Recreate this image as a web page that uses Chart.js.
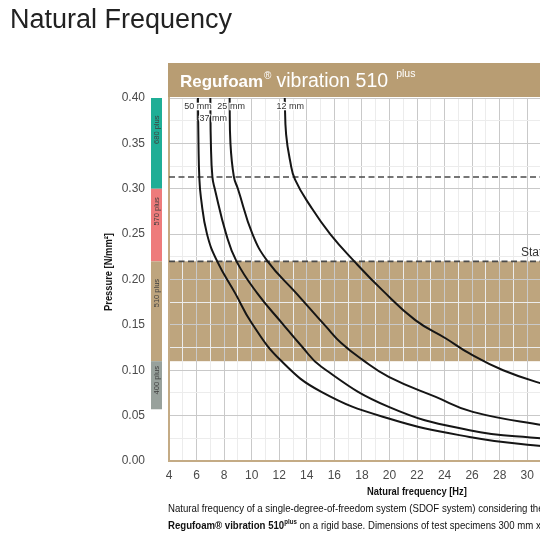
<!DOCTYPE html>
<html><head><meta charset="utf-8">
<script src="https://cdn.jsdelivr.net/npm/chart.js@4.4.1/dist/chart.umd.min.js"></script>
<style>
html,body{margin:0;padding:0;width:540px;height:540px;overflow:hidden;background:#fff;}
#wrap{position:relative;width:540px;height:540px;overflow:hidden;}
canvas{position:absolute;left:0;top:0;}
.t{position:absolute;white-space:nowrap;font-family:'Liberation Sans',Arial,sans-serif;color:#111;}
.n{transform-origin:left top;transform:scaleX(0.875);}
</style></head><body>
<div id="wrap">
<canvas id="c" width="700" height="540" style="width:700px;height:540px"></canvas>
<div class="t" style="left:10px;top:4px;font-size:27px;color:#222;">Natural Frequency</div>
<div class="t" style="left:108px;top:272px;font-size:11px;font-weight:bold;transform:translate(-50%,-50%) rotate(-90deg) scaleX(0.85);">Pressure [N/mm²]</div>
<div class="t" style="left:417px;top:491px;font-size:11px;font-weight:bold;transform:translate(-50%,-50%) scaleX(0.85);">Natural frequency [Hz]</div>
<div class="t n" style="left:168px;top:502px;font-size:11px;line-height:13px;">Natural frequency of a single-degree-of-freedom system (SDOF system) considering the stiffness of<br><b>Regufoam® vibration 510</b><sup style="font-size:7px;font-weight:bold;">plus</sup> on a rigid base. Dimensions of test specimens 300 mm x 300 mm.</div>
</div>
<script>
// ---- data ----
const curveLabels = ['50 mm', '37 mm', '25 mm', '12 mm'];
const freq50 = [6.10, 6.14, 6.20, 6.32, 6.76, 7.50, 8.80, 10.00, 12.10, 15.06, 19.95, 25.81, 31.18, 33.0];
const pres50 = [0.40, 0.35, 0.313, 0.29, 0.25, 0.22, 0.185, 0.152, 0.111, 0.0762, 0.0468, 0.0265, 0.0162, 0.0145];
const freq37 = [7.00, 7.04, 7.15, 7.32, 8.15, 8.90, 10.40, 12.20, 13.60, 15.06, 19.95, 25.81, 31.18, 33.0];
const pres37 = [0.40, 0.35, 0.313, 0.30, 0.25, 0.22, 0.185, 0.152, 0.127, 0.1038, 0.0596, 0.0339, 0.0247, 0.022];
const freq25 = [8.40, 8.46, 8.71, 9.00, 10.06, 11.16, 13.23, 15.40, 16.50, 18.00, 19.95, 23.36, 26.05, 31.18, 33.0];
const pres25 = [0.40, 0.35, 0.313, 0.30, 0.25, 0.22, 0.185, 0.148, 0.130, 0.112, 0.0927, 0.0706, 0.0541, 0.0394, 0.036];
const freq12 = [12.40, 12.50, 12.80, 13.15, 14.30, 15.70, 17.45, 19.50, 21.90, 24.10, 25.81, 28.25, 31.18, 33.0];
const pres12 = [0.40, 0.36, 0.33, 0.31, 0.28, 0.25, 0.22, 0.188, 0.155, 0.135, 0.1185, 0.100, 0.0847, 0.078];
const staticLines = [0.313, 0.22];
const bandRange = [0.11, 0.22];
const barLabels = ['680 plus', '570 plus', '510 plus', '400 plus'];
const barTops = [0.40, 0.30, 0.22, 0.11];
const barBottoms = [0.30, 0.22, 0.11, 0.057];
const barColors = ['#1fae96', '#ee7b7b', '#bea57e', '#98a19c'];
const barLabelAt = [0.365, 0.275, 0.185, 0.089];
const xMin = 4, xMax = 40, yMin = 0, yMax = 0.40;

const pts = (f, p) => f.map((v, i) => ({x: v, y: p[i]}));
const curves = [[freq50, pres50], [freq37, pres37], [freq25, pres25], [freq12, pres12]];

const datasets = curves.map(([f, p], i) => ({
  label: curveLabels[i], data: pts(f, p), showLine: true, borderColor: '#151515',
  borderWidth: 2, pointRadius: 0, tension: 0.45, fill: false
}));
staticLines.forEach(v => datasets.push({
  label: 'static', data: [{x: xMin, y: v}, {x: xMax, y: v}], showLine: true,
  borderColor: '#4a4a4a', borderWidth: 1.6, borderDash: [6, 3.5], pointRadius: 0
}));

const decor = {
  id: 'decor',
  beforeDraw(chart) {
    const {ctx, chartArea: a, scales: {x, y}} = chart;
    ctx.save();
    const bt = y.getPixelForValue(bandRange[1]), bb = y.getPixelForValue(bandRange[0]);
    ctx.fillStyle = '#bea57e';
    ctx.fillRect(a.left, bt, a.right - a.left, bb - bt);
    ctx.fillStyle = '#b89d73';
    ctx.fillRect(a.left - 1, a.top - 35, chart.width, 34);
    ctx.fillStyle = '#fff';
    ctx.textBaseline = 'alphabetic';
    let tx = 180, ty = 87;
    ctx.font = 'bold 17px "Liberation Sans", Arial, sans-serif';
    ctx.fillText('Regufoam', tx, ty); tx += ctx.measureText('Regufoam').width + 1;
    ctx.font = '10px "Liberation Sans", Arial, sans-serif';
    ctx.fillText('®', tx, ty - 8); tx += ctx.measureText('®').width + 5;
    ctx.font = '19.5px "Liberation Sans", Arial, sans-serif';
    ctx.fillText('vibration 510', tx, ty); tx += ctx.measureText('vibration 510').width + 8;
    ctx.font = '10.5px "Liberation Sans", Arial, sans-serif';
    ctx.fillText('plus', tx, ty - 10);
    for (let i = 0; i < barLabels.length; i++) {
      const t = y.getPixelForValue(barTops[i]), b = y.getPixelForValue(barBottoms[i]);
      ctx.fillStyle = barColors[i];
      ctx.fillRect(a.left - 18, t, 11, b - t);
      ctx.save();
      ctx.translate(a.left - 12.5, y.getPixelForValue(barLabelAt[i]));
      ctx.rotate(-Math.PI / 2);
      ctx.fillStyle = '#3e3e3e';
      ctx.font = '7.5px "Liberation Sans", Arial, sans-serif';
      ctx.textAlign = 'center'; ctx.textBaseline = 'middle';
      ctx.fillText(barLabels[i], 0, 0);
      ctx.restore();
    }
    ctx.restore();
  },
  afterDatasetsDraw(chart) {
    const {ctx, chartArea: a, scales: {x, y}} = chart;
    ctx.save();
    ctx.font = '9px "Liberation Sans", Arial, sans-serif';
    ctx.textAlign = 'center'; ctx.textBaseline = 'middle';
    const dx = [0, 3, 1.5, 5.5], dy = [9, 21, 9, 9];
    curves.forEach(([f], i) => {
      const px = x.getPixelForValue(f[0]) + dx[i], py = a.top + dy[i];
      ctx.strokeStyle = '#fff'; ctx.lineWidth = 2.5;
      ctx.strokeText(curveLabels[i], px, py);
      ctx.fillStyle = '#333';
      ctx.fillText(curveLabels[i], px, py);
    });
    ctx.textAlign = 'left'; ctx.textBaseline = 'alphabetic';
    ctx.font = '12px "Liberation Sans", Arial, sans-serif';
    ctx.fillStyle = '#333';
    ctx.fillText('Static load limit', 521, y.getPixelForValue(staticLines[1]) - 5);
    ctx.restore();
  }
};

new Chart(document.getElementById('c'), {
  type: 'scatter',
  data: {datasets},
  plugins: [decor],
  options: {
    responsive: false, animation: false, devicePixelRatio: 1,
    layout: {padding: {left: 0, top: 98, right: 35, bottom: 0}},
    plugins: {legend: {display: false}, tooltip: {enabled: false}},
    scales: {
      x: {
        type: 'linear', min: xMin, max: xMax,
        afterFit(s) { s.height = 79; },
        ticks: {stepSize: 1, autoSkip: false, maxRotation: 0, padding: 7, color: '#4a4a4a',
          font: {size: 12, family: '"Liberation Sans", Arial, sans-serif'},
          callback: v => (Math.round(v) % 2 === 0 ? String(v) : '')},
        grid: {drawTicks: false, lineWidth: 1,
          color: c => (c.tick && Math.round(c.tick.value) % 2 === 0) ? '#c9c9c9' : '#ececec'},
        border: {color: '#c4ab85', width: 2}
      },
      y: {
        type: 'linear', min: yMin, max: yMax,
        afterFit(s) { s.width = 169; },
        ticks: {stepSize: 0.025, autoSkip: false, padding: 24, color: '#4a4a4a',
          font: {size: 12, family: '"Liberation Sans", Arial, sans-serif'},
          callback: v => (Math.round(v * 1000) % 50 === 0 ? v.toFixed(2) : '')},
        grid: {drawTicks: false, lineWidth: 1,
          color: c => (c.tick && Math.round(c.tick.value * 1000) % 50 === 0) ? '#c9c9c9' : '#ececec'},
        border: {color: '#c4ab85', width: 2}
      }
    }
  }
});
</script>
</body></html>
